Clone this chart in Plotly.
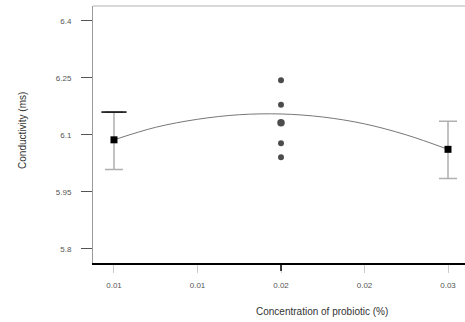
import plotly.graph_objects as go

# Data
group_x = [0.01, 0.03]
group_mean = [6.087, 6.062]
group_err_plus = [0.073, 0.074]
group_err_minus = [0.078, 0.077]

mid_x = [0.02, 0.02, 0.02, 0.02, 0.02]
mid_y = [6.244, 6.179, 6.132, 6.078, 6.041]
mid_sizes = [6, 6, 7.5, 6, 6]

curve_x = [0.01, 0.0125, 0.015, 0.0175, 0.02, 0.0225, 0.025, 0.0275, 0.03]
curve_y = [6.087, 6.120, 6.141, 6.153, 6.155, 6.147, 6.129, 6.100, 6.062]

y_ticks = [5.8, 5.95, 6.1, 6.25, 6.4]
y_ticktext = ["5.8", "5.95", "6.1", "6.25", "6.4"]
x_ticks = [0.01, 0.015, 0.02, 0.025, 0.03]
x_ticktext = ["0.01", "0.01", "0.02", "0.02", "0.03"]

FONT = "Liberation Sans, Arial, sans-serif"

fig = go.Figure()

fig.add_trace(go.Scatter(
    x=curve_x, y=curve_y, mode="lines",
    line=dict(color="#777777", width=1, shape="spline"),
    hoverinfo="skip", showlegend=False))

fig.add_trace(go.Scatter(
    x=group_x, y=group_mean, mode="markers",
    marker=dict(symbol="square", color="black", size=7),
    error_y=dict(type="data", symmetric=False, array=group_err_plus,
                 arrayminus=group_err_minus, color="#b0b0b0",
                 thickness=1.5, width=9),
    showlegend=False))

# dark upper cap on the first error bar
fig.add_trace(go.Scatter(
    x=[group_x[0]], y=[group_mean[0] + group_err_plus[0]], mode="markers",
    marker=dict(symbol="line-ew", size=18, line=dict(color="black", width=1.5)),
    showlegend=False, hoverinfo="skip"))

fig.add_trace(go.Scatter(
    x=mid_x, y=mid_y, mode="markers",
    marker=dict(symbol="circle", color="black", size=mid_sizes,
                line=dict(width=0)),
    showlegend=False))

fig.update_layout(
    width=465, height=322,
    margin=dict(l=93, r=0, t=6, b=59),
    paper_bgcolor="white", plot_bgcolor="white",
    font=dict(family=FONT, color="#444444"),
    xaxis=dict(
        range=[0.008743, 0.031018],
        tickvals=x_ticks, ticktext=x_ticktext,
        ticks="outside", ticklen=8, tickcolor="#cccccc", tickwidth=1,
        tickfont=dict(size=8, color="#555555"),
        ticklabelstandoff=6,
        showline=True, linecolor="black", linewidth=1.5,
        showgrid=False, zeroline=False),
    yaxis=dict(
        range=[5.763, 6.439],
        tickvals=y_ticks, ticktext=y_ticktext,
        ticks="outside", ticklen=11, tickcolor="#555555", tickwidth=1,
        tickfont=dict(size=8, color="#555555"),
        ticklabelstandoff=8,
        showline=True, linecolor="#999999", linewidth=1,
        showgrid=False, zeroline=False),
    shapes=[
        dict(type="line", xref="paper", yref="paper", x0=0, x1=1, y0=1, y1=1,
             line=dict(color="#cccccc", width=1.5)),
        dict(type="line", xref="x", yref="paper", x0=0.02, x1=0.02,
             y0=0, y1=-8 / 257, line=dict(color="black", width=1.5)),
    ],
    annotations=[
        dict(text="Conductivity (ms)", xref="paper", yref="paper",
             x=-0.191, y=0.5175, xanchor="center", yanchor="middle",
             textangle=-90, showarrow=False,
             font=dict(size=10, color="#333333", family=FONT)),
        dict(text="Concentration of probiotic (%)", xref="paper", yref="paper",
             x=0.6156, y=-0.187, xanchor="center", yanchor="middle",
             showarrow=False,
             font=dict(size=10, color="#333333", family=FONT)),
    ],
)

fig.write_html("out.html")
